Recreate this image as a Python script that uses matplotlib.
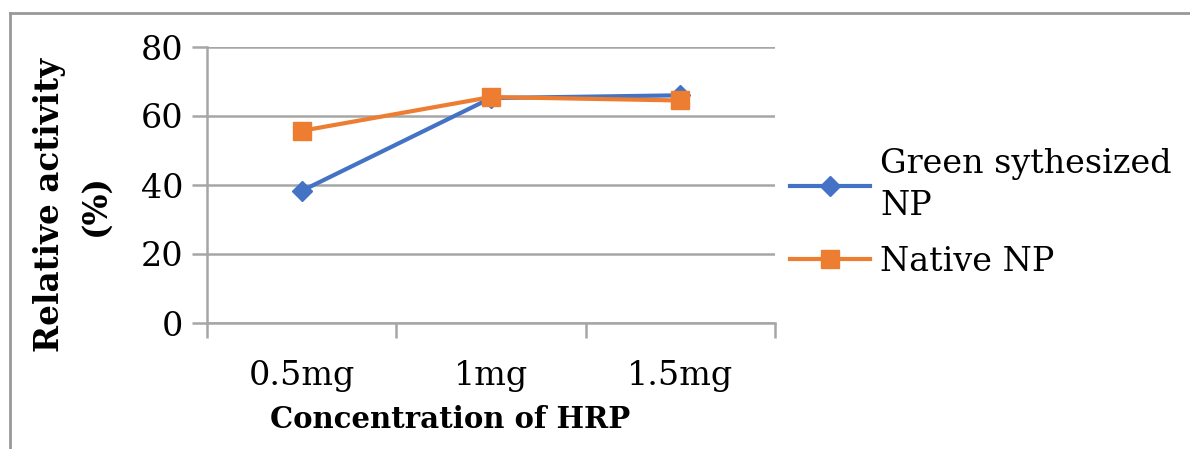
import matplotlib
matplotlib.use("Agg")
import matplotlib.pyplot as plt
from matplotlib.lines import Line2D

categories = ["0.5mg", "1mg", "1.5mg"]
green_np = [38.3, 65.2, 66.0]
native_np = [55.7, 65.5, 64.5]
series_labels = ["Green sythesized\nNP", "Native NP"]
y_ticks = [0, 20, 40, 60, 80]

blue = "#4472C4"
orange = "#ED7D31"
grid_c = "#A6A6A6"

plt.rcParams['font.family'] = ['DejaVu Serif']

fig = plt.figure(figsize=(11.9, 4.49), dpi=100)
ax = fig.add_axes([207/1190, 1-323/449, (775-207)/1190, (323-47)/449])

x = list(range(len(categories)))
ax.plot(x, green_np, color=blue, lw=3, marker="D", ms=10, label=series_labels[0], zorder=3)
ax.plot(x, native_np, color=orange, lw=3, marker="s", ms=13, label=series_labels[1], zorder=4)

ax.set_xlim(-0.5, len(categories) - 0.5)
ax.set_ylim(0, 80)
ax.set_yticks(y_ticks)
ax.set_yticklabels([str(v) for v in y_ticks], fontsize=24)
ax.yaxis.grid(True, color=grid_c, lw=1.8)
ax.set_axisbelow(True)

ax.set_xticks([i - 0.5 for i in range(len(categories) + 1)])
ax.set_xticklabels([])
ax.set_xticks(x, minor=True)
ax.set_xticklabels(categories, minor=True, fontsize=24)
ax.tick_params(axis="x", which="major", length=11, width=1.8, color=grid_c, direction="out")
ax.tick_params(axis="x", which="minor", length=0, pad=27)
ax.tick_params(axis="y", length=11, width=1.8, color=grid_c, pad=6)

for s in ["top", "right"]:
    ax.spines[s].set_visible(False)
for s in ["left", "bottom"]:
    ax.spines[s].set_color(grid_c)
    ax.spines[s].set_linewidth(1.8)

ax.set_xlabel("Concentration of HRP", fontsize=21, fontweight="bold")
ax.xaxis.set_label_coords((450-207)/568, -(420-323)/276)
ax.xaxis.label.set_va("center")
fig.text(50/1190, 1-205/449, "Relative activity", rotation=90, fontsize=23.5,
         fontweight="bold", ha="center", va="center")
fig.text(95/1190, 1-205/449, "(%)", rotation=90, fontsize=23.5,
         fontweight="bold", ha="center", va="center")

leg = ax.legend(loc="upper left", bbox_to_anchor=(790/1190, 1-148/449),
                bbox_transform=fig.transFigure, frameon=False, fontsize=24,
                handlelength=2.4, handletextpad=0.3, labelspacing=0.72,
                borderpad=0, borderaxespad=0)
for t in leg.get_texts():
    t.set_linespacing(1.4)

fig.add_artist(Line2D([10/1190, 1], [1-13/449, 1-13/449], transform=fig.transFigure,
                      color="#999999", lw=2))
fig.add_artist(Line2D([10/1190, 10/1190], [0, 1-13/449], transform=fig.transFigure,
                      color="#999999", lw=2))

fig.savefig("out.png", dpi=100)
